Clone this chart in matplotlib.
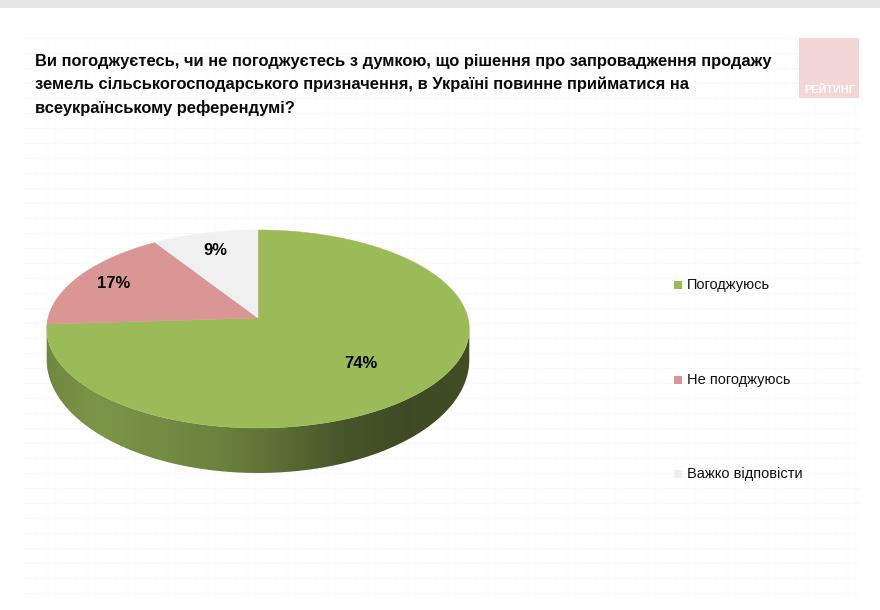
import numpy as np
import matplotlib
matplotlib.use("Agg")
import matplotlib.pyplot as plt
from matplotlib.patches import Rectangle, Polygon
from matplotlib.colors import to_rgb

# ---- data ----
title = ("Ви погоджуєтесь, чи не погоджуєтесь з думкою, що рішення про запровадження продажу\n"
         "земель сільськогосподарського призначення, в Україні повинне прийматися на\n"
         "всеукраїнському референдумі?")
categories = ["Погоджуюсь", "Не погоджуюсь", "Важко відповісти"]
values = [74, 17, 9]
value_labels = ["74%", "17%", "9%"]
colors = ["#9bbb59", "#d99694", "#f0f0f0"]

plt.rcParams['font.family'] = ['Liberation Sans', 'DejaVu Sans']

W, H = 880, 610
fig = plt.figure(figsize=(W / 100, H / 100), dpi=100)
fig.patch.set_facecolor("white")
ax = fig.add_axes([0, 0, 1, 1])
ax.axis("off")

# pie angles computed by matplotlib
wedges, _ = ax.pie(values, startangle=90, counterclock=False, radius=1, center=(0, 0))
angles = [(w.theta1, w.theta2) for w in wedges]
for w in wedges:
    w.remove()
ax.set_aspect("auto")
ax.set_xlim(0, W)
ax.set_ylim(H, 0)

# background: top band, faint grid panel
ax.add_patch(Rectangle((0, 0), W, 8, facecolor="#e6e6e6", edgecolor="none", zorder=0))
for gy in np.arange(38, 600, 15):
    ax.plot([25, 860], [gy, gy], color="#f9f9f9", lw=0.6, zorder=0.1)
for gx in np.arange(25, 861, 10):
    ax.plot([gx, gx], [38, 600], color="#fafafa", lw=0.5, zorder=0.1)

# watermark
ax.add_patch(Rectangle((799, 38), 60, 60, facecolor="#f3d6d6", edgecolor="none", zorder=1))
ax.text(830, 90, "РЕЙТИНГ", color="white", fontsize=7.8, fontweight="bold",
        ha="center", va="center", zorder=2)

# title
ax.text(35, 54, title, fontsize=11.9, fontweight="bold", color="#0a0a0a",
        ha="left", va="top", linespacing=1.6, zorder=3)

# ---- perspective pie ----
cx, cy, a = 258, 318, 210
k = 0.111
A_top, A_bot, D = 97.8, 112.0, 29.0


def proj(theta_deg, r=1.0, bottom=False):
    t = np.radians(theta_deg)
    x = r * np.cos(t)
    y = r * np.sin(t)
    den = 1 + k * y
    sx = cx + a * x / den
    if bottom:
        sy = cy + D - A_bot * y / den
    else:
        sy = cy - A_top * y / den
    return sx, sy


vis_lo = 180 + np.degrees(np.arcsin(k))
vis_hi = 360 - np.degrees(np.arcsin(k))

shade_x = np.array([0.0, 0.12, 0.4, 0.55, 0.7, 0.85, 1.0])
shade_f = np.array([0.72, 0.80, 0.70, 0.59, 0.46, 0.40, 0.41])
xs_img = np.linspace(0, 1, 400)
fac = np.interp(xs_img, shade_x, shade_f)

for (t1, t2), col in zip(angles, colors):
    lo, hi = min(t1, t2), max(t1, t2)
    segs = []
    for off in (-360, 0, 360):
        s0, s1 = max(lo + off, vis_lo), min(hi + off, vis_hi)
        if s1 > s0:
            segs.append((s0, s1))
    base = np.array(to_rgb(col))
    img = (fac[:, None] * base[None, :])[None, :, :]
    for s0, s1 in segs:
        th = np.linspace(s0, s1, 200)
        top = np.array([proj(t) for t in th])
        bot = np.array([proj(t, bottom=True) for t in th[::-1]])
        poly = Polygon(np.vstack([top, bot]), closed=True, facecolor="none",
                       edgecolor="none", zorder=4)
        ax.add_patch(poly)
        im = ax.imshow(img, extent=(cx - a - 2, cx + a + 2, cy + 200, cy - 200),
                       aspect="auto", zorder=4, interpolation="bilinear")
        im.set_clip_path(poly)

for (t1, t2), col in zip(angles, colors):
    th = np.linspace(t1, t2, 300)
    pts = [proj(t) for t in th]
    pts = [(cx, cy)] + pts
    ax.add_patch(Polygon(pts, closed=True, facecolor=col, edgecolor=col, lw=0.3, zorder=5))
ax.set_xlim(0, W)
ax.set_ylim(H, 0)

label_r = [0.64, 0.8, 0.78]
for (t1, t2), lab, r in zip(angles, value_labels, label_r):
    sx, sy = proj((t1 + t2) / 2, r=r)
    ax.text(sx, sy, lab, fontsize=12, fontweight="bold", color="black",
            ha="center", va="center", zorder=6)

# legend
leg_y = [285, 380, 474]
for name, col, ly in zip(categories, colors, leg_y):
    ax.add_patch(Rectangle((674, ly - 4), 8, 8, facecolor=col, edgecolor="none", zorder=6))
    ax.text(687, ly, name, fontsize=10.5, color="#111111", ha="left", va="center", zorder=6)

fig.savefig("out.png", dpi=100, facecolor="white")
